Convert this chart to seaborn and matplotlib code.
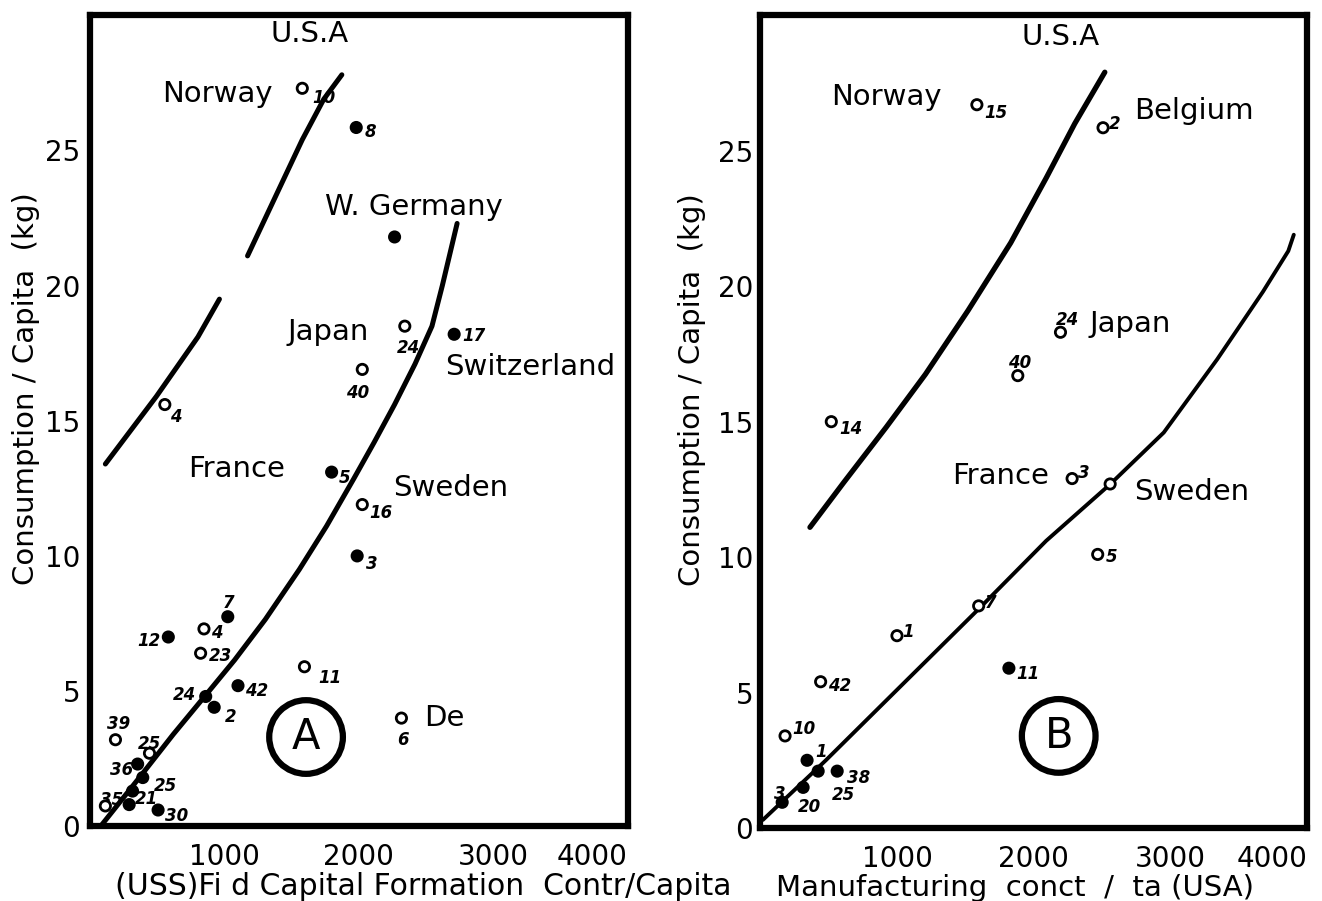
import numpy as np
import pandas as pd
import matplotlib
matplotlib.use("Agg")
import matplotlib.pyplot as plt
import seaborn as sns

# ---- panel A: fixed capital formation per capita ----
a_x = [1579, 1980, 2265, 2341, 2708, 2025, 557, 1797, 2025, 1987, 1025, 583, 848, 823,
       1595, 1101, 861, 924, 2316, 190, 443, 355, 393, 317, 507, 115, 292]
a_y = [27.3, 25.85, 21.8, 18.5, 18.2, 16.9, 15.6, 13.1, 11.9, 10.0, 7.75, 7.0, 7.3, 6.4,
       5.9, 5.2, 4.8, 4.4, 4.0, 3.2, 2.7, 2.3, 1.8, 1.3, 0.6, 0.75, 0.8]
a_lab = ["10", "8", "", "24", "17", "40", "4", "5", "16", "3", "7", "12", "4", "23",
         "11", "42", "24", "2", "6", "39", "25", "36", "25", "", "30", "35", "21"]
a_fill = ["open", "filled", "filled", "open", "filled", "open", "open", "filled", "open",
          "filled", "filled", "filled", "open", "open", "open", "filled", "filled", "filled",
          "open", "open", "open", "filled", "filled", "filled", "filled", "open", "filled"]

a_up1_x = [115, 494, 803, 963]
a_up1_y = [13.4, 15.9, 18.1, 19.5]
a_up2_x = [1172, 1418, 1579, 1739, 1873]
a_up2_y = [21.1, 23.7, 25.4, 26.9, 27.8]
a_low_x = [80, 368, 620, 861, 1076, 1304, 1557, 1759, 1961, 2113, 2265, 2417, 2543, 2620, 2730]
a_low_y = [0.0, 1.8, 3.4, 4.85, 6.15, 7.65, 9.5, 11.1, 12.85, 14.2, 15.6, 17.1, 18.5, 20.0, 22.3]

# ---- panel B: manufacturing per capita ----
b_x = [1584, 2506, 2195, 1883, 520, 2280, 2558, 2467, 1597, 1000, 1818, 442, 182, 343,
       563, 424, 314, 161]
b_y = [26.7, 25.85, 18.3, 16.7, 15.0, 12.9, 12.7, 10.1, 8.2, 7.1, 5.9, 5.4, 3.4, 2.5,
       2.1, 2.1, 1.5, 0.95]
b_lab = ["15", "2", "24", "40", "14", "3", "", "5", "7", "1", "11", "42", "10", "1",
         "38", "25", "20", "3"]
b_fill = ["open", "open", "open", "open", "open", "open", "open", "open", "open", "open",
          "filled", "open", "open", "filled", "filled", "filled", "filled", "filled"]

b_up_x = [364, 610, 922, 1208, 1519, 1831, 2091, 2299, 2519]
b_up_y = [11.1, 12.75, 14.8, 16.75, 19.1, 21.6, 24.0, 26.0, 27.9]
b_low_x = [20, 480, 1000, 1600, 2090, 2560, 2950, 3340, 3675, 3860, 3900]
b_low_y = [0.3, 2.5, 5.1, 8.1, 10.6, 12.7, 14.6, 17.3, 19.8, 21.3, 21.9]

xticks = [1000, 2000, 3000, 4000]
yticks = [0, 5, 10, 15, 20, 25]

# label offsets (points), styling only
a_off = [(7, -7), (6, -3), (0, 0), (-6, -16), (6, -1), (-12, -17), (4, -9), (5, -4),
         (5, -6), (6, -6), (-4, 10), (-22, -3), (5, -3), (6, -2), (10, -8), (5, -4),
         (-24, 1), (8, -7), (-3, -16), (-6, 11), (-8, 7), (-20, -4), (8, -6), (0, 0),
         (5, -4), (-4, 4), (4, 4)]
b_off = [(5, -6), (4, 3), (-3, 9), (-7, 9), (6, -5), (4, 4), (0, 0), (6, -2), (4, 2),
         (4, 3), (5, -4), (5, -3), (5, 5), (6, 6), (7, -5), (10, -17), (-4, -14), (-6, 6)]

sns.set_style("white")
plt.rcParams["font.family"] = ["DejaVu Sans"]
plt.rcParams["text.color"] = "black"
plt.rcParams["axes.labelcolor"] = "black"

fig = plt.figure(figsize=(13.22, 9.01), dpi=100)
ax1 = fig.add_axes([0.068, 0.083, 0.407, 0.900])
ax2 = fig.add_axes([0.575, 0.081, 0.414, 0.902])

num_font = dict(fontsize=12, style="italic", fontweight="bold", color="black")
name_font = dict(fontsize=21, color="black")


def draw_points(ax, xs, ys, labels, fills, offs):
    df = pd.DataFrame({"x": xs, "y": ys, "fill": fills})
    sns.scatterplot(data=df, x="x", y="y", hue="fill",
                    palette={"filled": "black", "open": "white"},
                    edgecolor="black", linewidth=2, s=55, legend=False, ax=ax, zorder=5)
    for x, y, lbl, off in zip(xs, ys, labels, offs):
        if lbl:
            ax.annotate(lbl, (x, y), xytext=off, textcoords="offset points",
                        ha="left", va="center", **num_font)


def line(ax, xs, ys, lw):
    sns.lineplot(x=xs, y=ys, sort=False, estimator=None, color="black", lw=lw, ax=ax)


# panel A
line(ax1, a_up1_x, a_up1_y, 3.6)
line(ax1, a_up2_x, a_up2_y, 3.6)
line(ax1, a_low_x, a_low_y, 3.6)
draw_points(ax1, a_x, a_y, a_lab, a_fill, a_off)
for txt, x, y in [("U.S.A", 1632, 29.3), ("Norway", 950, 27.1), ("W. Germany", 2408, 22.9),
                  ("Japan", 1770, 18.3), ("Switzerland", 3271, 17.0), ("France", 1089, 13.2),
                  ("Sweden", 2680, 12.5), ("De", 2632, 4.0)]:
    ax1.text(x, y, txt, ha="center", va="center", **name_font)
ax1.text(1607, 3.3, "A", ha="center", va="center", fontsize=30, zorder=6,
         bbox=dict(boxstyle="circle,pad=0.38", fc="white", ec="black", lw=4.5))

# panel B
line(ax2, b_up_x, b_up_y, 3.8)
line(ax2, b_low_x, b_low_y, 2.8)
draw_points(ax2, b_x, b_y, b_lab, b_fill, b_off)
for txt, x, y in [("U.S.A", 2198, 29.2), ("Norway", 923, 27.0), ("Belgium", 3168, 26.45),
                  ("Japan", 2708, 18.6), ("France", 1760, 13.0), ("Sweden", 3155, 12.4)]:
    ax2.text(x, y, txt, ha="center", va="center", **name_font)
ax2.text(2182, 3.4, "B", ha="center", va="center", fontsize=30, zorder=6,
         bbox=dict(boxstyle="circle,pad=0.38", fc="white", ec="black", lw=4.5))

for ax, ypad in [(ax1, 7), (ax2, 5)]:
    ax.set_xlim(0, 4000)
    ax.set_ylim(0, 30)
    ax.set_xticks(xticks)
    ax.set_yticks(yticks)
    ax.tick_params(axis="both", direction="in", length=10, width=2, labelsize=20,
                   colors="black")
    ax.tick_params(axis="y", pad=ypad)
    ax.tick_params(axis="x", pad=12)
    ax.get_xticklabels()[-1].set_horizontalalignment("right")
    for sp in ax.spines.values():
        sp.set_linewidth(4.5)
        sp.set_color("black")
    ax.set_ylabel("Consumption / Capita  (kg)", fontsize=21, color="black")

ax1.yaxis.set_label_coords(-0.093, 0.54)
ax2.yaxis.set_label_coords(-0.099, 0.54)

ax1.set_xlabel("(USS)Fi d Capital Formation  Contr/Capita", fontsize=21.5, color="black")
ax1.xaxis.set_label_coords(0.62, -0.056)
ax2.set_xlabel("Manufacturing  conct  /  ta (USA)", fontsize=21, color="black")
ax2.xaxis.set_label_coords(0.466, -0.056)

fig.savefig("out.png", dpi=100)
